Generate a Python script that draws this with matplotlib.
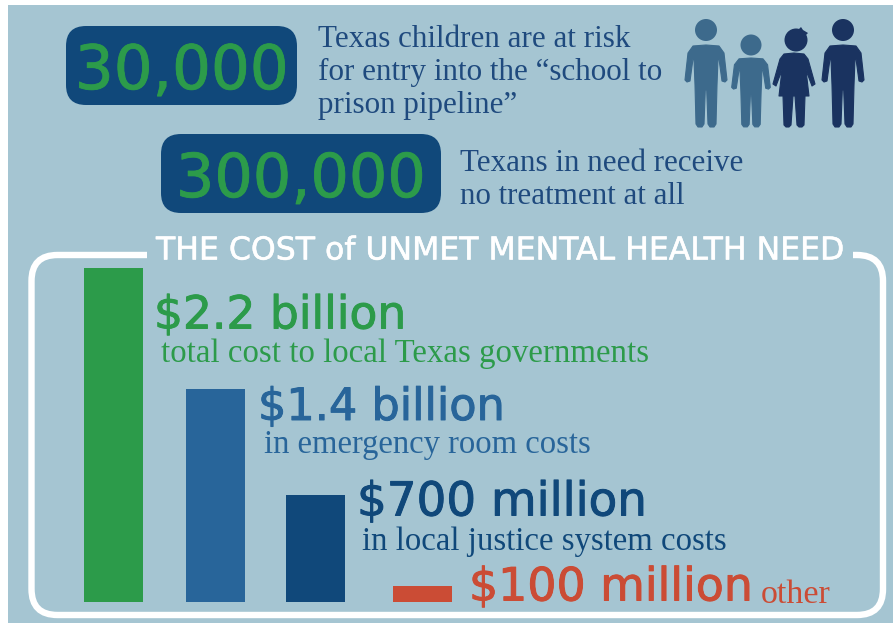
import matplotlib
matplotlib.use("Agg")
import matplotlib.pyplot as plt
import matplotlib.patheffects as pe
from matplotlib.patches import FancyBboxPatch, Circle, Polygon, Rectangle
from matplotlib.path import Path
from matplotlib.patches import PathPatch

# data
bar_values = [2.2, 1.4, 0.7, 0.1]
bar_labels = ["$2.2 billion", "$1.4 billion", "$700 million", "$100 million"]
bar_notes = ["total cost to local Texas governments", "in emergency room costs",
             "in local justice system costs", "other"]
stat_values = ["30,000", "300,000"]
stat_notes = ["Texas children are at risk\nfor entry into the \u201cschool to\nprison pipeline\u201d",
              "Texans in need receive\nno treatment at all"]
title = "THE COST of UNMET MENTAL HEALTH NEED"

BG = "#A5C5D2"; NAVY = "#10487A"; GREEN = "#2C9B4A"; BLUE = "#28659A"; RED = "#CB4C35"
TXT = "#1F4A7E"; P1 = "#3D6A8C"; P2 = "#1A3360"
SANS = "DejaVu Sans"; SERIF = "Liberation Serif"

W, H = 893, 623
fig = plt.figure(figsize=(W / 100, H / 100), dpi=100, facecolor="white")
ax = fig.add_axes([0, 0, 1, 1])
ax.set_xlim(0, W); ax.set_ylim(H, 0); ax.axis("off")
ax.add_patch(Rectangle((8, 5), W - 8, H - 5, fc=BG, ec="none"))

def heavy(t, col, w):
    t.set_path_effects([pe.withStroke(linewidth=w, foreground=col)])

def box(x0, y0, x1, y1, r=20):
    ax.add_patch(FancyBboxPatch((x0 + r, y0 + r), x1 - x0 - 2 * r, y1 - y0 - 2 * r,
                                boxstyle=f"round,pad={r},rounding_size={r}", fc=NAVY, ec="none"))
box(66, 26, 297, 105)
box(161, 134, 441, 213)
heavy(ax.text(181.5, 66, stat_values[0], color=GREEN, family=SANS, fontsize=44, ha="center", va="center_baseline"), GREEN, 0.6)
heavy(ax.text(301, 174, stat_values[1], color=GREEN, family=SANS, fontsize=43.5, ha="center", va="center_baseline"), GREEN, 0.6)
ax.text(318, 72.5, stat_notes[0], color=TXT, family=SERIF, fontsize=22.4, va="center", linespacing=1.16)
ax.text(460, 180, stat_notes[1], color=TXT, family=SERIF, fontsize=22.3, va="center", linespacing=1.16)

# frame
r = 26
L, R, T, B = 31.5, 883, 255, 615
verts = [(147, T), (L + r, T), (L, T), (L, T + r), (L, B - r), (L, B), (L + r, B),
         (R - r, B), (R, B), (R, B - r), (R, T + r), (R, T), (R - r, T), (853, T)]
codes = [Path.MOVETO, Path.LINETO, Path.CURVE3, Path.CURVE3, Path.LINETO, Path.CURVE3, Path.CURVE3,
         Path.LINETO, Path.CURVE3, Path.CURVE3, Path.LINETO, Path.CURVE3, Path.CURVE3, Path.LINETO]
ax.add_patch(PathPatch(Path(verts, codes), fc="none", ec="white", lw=4.6))
heavy(ax.text(156, 251, title, color="white", family=SANS, fontsize=22.7, va="center"), "white", 0.4)

# bars on their own value axis
bx = fig.add_axes([0, (H - 601.5) / H, 1, 333.5 / H])
bx.set_xlim(0, W); bx.set_ylim(0, 2.2); bx.axis("off"); bx.patch.set_alpha(0)
bar_x = [113.5, 215, 315.5, 422.5]
bx.bar(bar_x, bar_values, width=59, color=[GREEN, BLUE, NAVY, RED])

lab = [(154, 311), (258, 403), (357, 498), (469, 583)]
note = [(161, 350), (264, 441), (362, 538), (761, 591)]
cols = [GREEN, BLUE, NAVY, RED]
note_sizes = [23.7, 23.5, 23.6, 24.5]
label_sizes = [32.8, 32.1, 33.7, 33]
for i in range(4):
    t = ax.text(*lab[i], bar_labels[i].replace("$", r"\$"), color=cols[i], family=SANS, fontsize=label_sizes[i],
                va="center_baseline")
    heavy(t, cols[i], 0.7)
    ax.text(*note[i], bar_notes[i], color=cols[i], family=SERIF, fontsize=note_sizes[i], va="center_baseline")

# people
BOY = [(0, 0), (13, 1), (18, 8), (21, 35), (19, 37), (16, 36), (13, 14), (12, 14), (11, 40), (10, 79), (8, 82),
       (4, 82), (2, 79), (0.7, 45)]
GIRL = [(0, 0), (10, 1), (14, 6), (21, 31), (18, 33), (12, 17), (15, 43), (11, 43), (10, 72), (8, 74), (5, 74),
        (3, 72), (1, 43)]

def person(cx, sy, hx, hy, hr, shape, sw, sh, col):
    half = [(x * sw, y * sh) for x, y in shape]
    pts = [(cx + x, sy + y) for x, y in half] + [(cx - x, sy + y) for x, y in reversed(half)]
    ax.add_patch(Polygon(pts, closed=True, fc=col, ec=col, lw=0.8, joinstyle="round"))
    ax.add_patch(Circle((hx, hy), hr, fc=col, ec="none"))

person(706, 45, 706, 30, 11, BOY, 1, 1, P1)
person(751, 58, 751, 45, 10.5, BOY, 0.92, 0.84, P1)
person(794, 53, 796, 40, 11.5, GIRL, 1, 1, P2)
ax.add_patch(Polygon([(798, 30), (801, 27), (803, 30), (808, 33), (804, 37)], fc=P2, ec="none"))
person(843, 45, 843, 30, 11, BOY, 1, 1, P2)

fig.savefig("out.png", dpi=100, facecolor="white")
